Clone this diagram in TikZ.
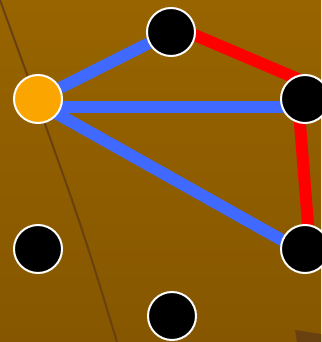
\documentclass[tikz,border=0pt]{standalone}
\usetikzlibrary{positioning,backgrounds}
\definecolor{GroundTop}{RGB}{152,100,0}
\definecolor{GroundBottom}{RGB}{134,87,0}
\definecolor{RidgeBrown}{RGB}{105,64,16}
\definecolor{StartOrange}{RGB}{250,165,0}
\definecolor{EdgeBlue}{RGB}{64,106,255}
\definecolor{EdgeRed}{RGB}{255,0,0}

\begin{document}
\begin{tikzpicture}[
x=1pt,y=-1pt,
vertex/.style={circle,draw=white,line width=2pt,fill=black,minimum size=48pt,inner sep=0pt},
start/.style={vertex,fill=StartOrange},
blueedge/.style={line width=12pt,draw=EdgeBlue},
rededge/.style={line width=12pt,draw=EdgeRed}
]
\useasboundingbox (0,0) rectangle (321,342);
\node[start] (s) at (38,99) {};
\node[vertex] (t) at (171,32) {};
\node[vertex] (r) at (305,99) {};
\node[vertex] (br) at (305,249) {};
\node[vertex] (bl) at (38,249) {};
\node[vertex] (bm) at (172,316) {};
\begin{scope}[on background layer]
% ground and ridge
\fill[top color=GroundTop,bottom color=GroundBottom] (0,0) rectangle (321,342);
\draw[RidgeBrown,line width=2pt] (0,0) .. controls (80,220) .. (117,342);
\fill[RidgeBrown] (295,330) -- (321,334) -- (321,342) -- (297,342) -- cycle;
% edges
\draw[blueedge] (s) -- (t);
\draw[blueedge] ([yshift=-8pt]s.center) -- ([yshift=-8pt]r.center);
\draw[blueedge] ([yshift=-4pt]s.center) -- ([yshift=-4pt]br.center);
\draw[rededge] ([yshift=7pt]t.center) -- ([yshift=17pt]r.center);
\draw[rededge] ([xshift=-7pt]r.center) -- ([xshift=5pt]br.center);
\end{scope}
\end{tikzpicture}
\end{document}
